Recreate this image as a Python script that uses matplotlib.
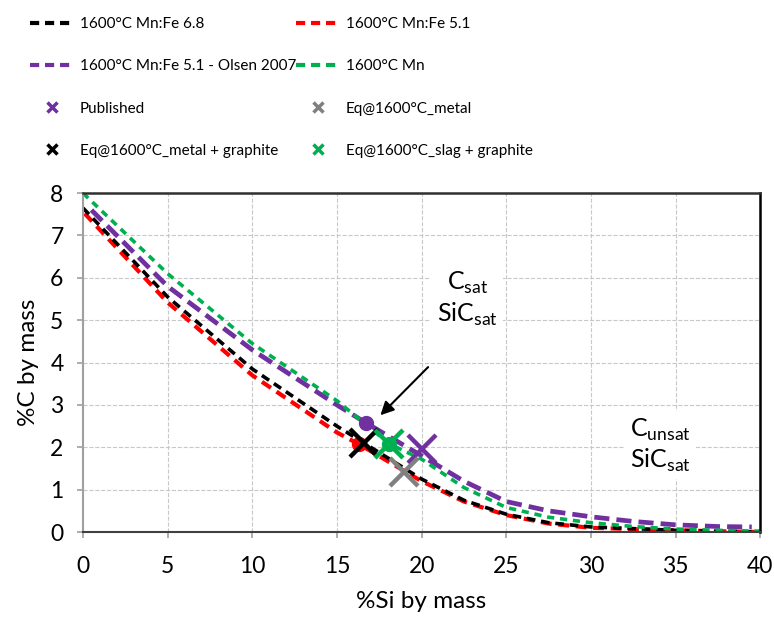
import matplotlib.pyplot as plt
from matplotlib.lines import Line2D

plt.rcParams['font.family'] = ['Lato', 'DejaVu Sans']
plt.rcParams['mathtext.fontset'] = 'custom'
plt.rcParams['mathtext.rm'] = 'Lato'

# C solubility curves at 1600 C (%Si vs %C)
si_mn68 = [0, 5, 10, 15, 16.6, 20, 22.5, 25, 27.5, 30, 35, 40]
c_mn68 = [7.65, 5.55, 3.85, 2.5, 2.1, 1.25, 0.75, 0.42, 0.22, 0.12, 0.04, 0.0]

si_mn51 = [0.1, 5, 10, 15, 16.4, 20, 22.5, 25, 27.5, 30, 35, 40]
c_mn51 = [7.52, 5.42, 3.7, 2.35, 2.05, 1.2, 0.72, 0.4, 0.2, 0.1, 0.04, 0.0]

si_olsen = [0.5, 5, 10, 15, 16.7, 20, 22.5, 25, 27.5, 30, 32.5, 35, 37.5, 39.5]
c_olsen = [7.6, 5.8, 4.3, 3.0, 2.58, 1.8, 1.2, 0.72, 0.5, 0.36, 0.25, 0.17, 0.13, 0.12]

si_mn = [0, 5, 10, 15, 18.1, 20, 22.5, 25, 27.5, 30, 32.5, 35, 37.5, 40]
c_mn = [8.0, 6.1, 4.45, 3.1, 2.08, 1.72, 1.05, 0.58, 0.35, 0.22, 0.13, 0.07, 0.04, 0.02]

# double saturation points (C + SiC)
sat_si = [16.3, 16.7, 18.1]
sat_c = [2.07, 2.58, 2.08]
sat_col = ['#ff0000', '#7030a0', '#00b050']

# measured / equilibrium points
pub = (20.0, 1.97)
eq_metal = (18.95, 1.42)
eq_metal_gr = (16.6, 2.1)
eq_slag_gr = (18.1, 2.08)

fig = plt.figure(figsize=(7.74, 6.19), dpi=100)
ax = fig.add_axes([0.1072, 0.1405, 0.8750, 0.5475])

ax.plot(si_mn51, c_mn51, color='#ff0000', lw=3.0, dashes=(2.6, 1.6))
ax.plot(si_mn68, c_mn68, color='black', lw=2.6, dashes=(2.4, 1.6))
ax.plot(si_olsen, c_olsen, color='#7030a0', lw=3.4, dashes=(3.2, 1.5))
ax.plot(si_mn, c_mn, color='#00b050', lw=2.6, dashes=(2.0, 1.6))

for s, c, col in zip(sat_si, sat_c, sat_col):
    ax.plot(s, c, 'o', color=col, ms=10, zorder=4)

big = dict(marker='x', ms=20, mew=3.2, ls='none', zorder=5)
ax.plot(*pub, color='#7030a0', **big)
ax.plot(*eq_metal, color='#808080', **big)
ax.plot(*eq_metal_gr, color='black', **big)
ax.plot(*eq_slag_gr, color='#00b050', **big)

ax.set_xlim(0, 40)
ax.set_ylim(0, 8)
ax.set_xticks(range(0, 41, 5))
ax.set_yticks(range(0, 9))
ax.grid(True, color='#c8c8c8', ls='--', lw=0.8)
ax.set_axisbelow(True)
ax.tick_params(labelsize=16.5, length=4, width=1.2, color='#a0a0a0')
ax.tick_params(axis='x', pad=13)
ax.tick_params(axis='y', pad=10)
ax.set_xlabel('%Si by mass', fontsize=17.5, labelpad=10)
ax.set_ylabel('%C by mass', fontsize=17.5, labelpad=8)

ax.spines['left'].set_color('#a0a0a0')
ax.spines['left'].set_linewidth(1.5)
ax.spines['bottom'].set_color('#404040')
ax.spines['bottom'].set_linewidth(1.5)
ax.spines['top'].set_color('#303030')
ax.spines['top'].set_linewidth(1.8)
ax.spines['right'].set_color('black')
ax.spines['right'].set_linewidth(1.8)

box = dict(facecolor='white', edgecolor='none', pad=4)
ax.text(22.7, 5.5, 'C$_{\\mathrm{sat}}$\nSiC$_{\\mathrm{sat}}$', fontsize=18,
        ha='center', va='center', linespacing=1.2, bbox=box)
ax.text(34.1, 2.05, 'C$_{\\mathrm{unsat}}$\nSiC$_{\\mathrm{sat}}$', fontsize=18,
        ha='center', va='center', linespacing=1.2, bbox=box)
ax.annotate('', xy=(17.45, 2.71), xytext=(20.5, 3.94),
            arrowprops=dict(arrowstyle='-|>,head_length=0.8,head_width=0.4',
                            color='black', lw=1.5))

# legend in two columns, placed side by side
dash = (2.2, 1.4)
col1 = [
    Line2D([], [], color='black', lw=3, dashes=dash),
    Line2D([], [], color='#7030a0', lw=3, dashes=dash),
    Line2D([], [], color='#7030a0', marker='x', ms=7, mew=2.5, ls='none'),
    Line2D([], [], color='black', marker='x', ms=7, mew=2.5, ls='none'),
]
col2 = [
    Line2D([], [], color='#ff0000', lw=3, dashes=dash),
    Line2D([], [], color='#00b050', lw=3, dashes=dash),
    Line2D([], [], color='#808080', marker='x', ms=7, mew=2.5, ls='none'),
    Line2D([], [], color='#00b050', marker='x', ms=7, mew=2.5, ls='none'),
]
lab1 = ['1600°C Mn:Fe 6.8', '1600°C Mn:Fe 5.1 - Olsen 2007', 'Published',
        'Eq@1600°C_metal + graphite']
lab2 = ['1600°C Mn:Fe 5.1', '1600°C Mn', 'Eq@1600°C_metal',
        'Eq@1600°C_slag + graphite']
leg_kw = dict(loc='upper left', frameon=False, fontsize=11, handlelength=2.9,
              handletextpad=0.35, labelspacing=1.85, borderpad=0, borderaxespad=0)
fig.legend(col1, lab1, bbox_to_anchor=(30 / 774, 1 - 17 / 619), **leg_kw)
fig.legend(col2, lab2, bbox_to_anchor=(296 / 774, 1 - 17 / 619), **leg_kw)

fig.savefig('out.png', dpi=100)
